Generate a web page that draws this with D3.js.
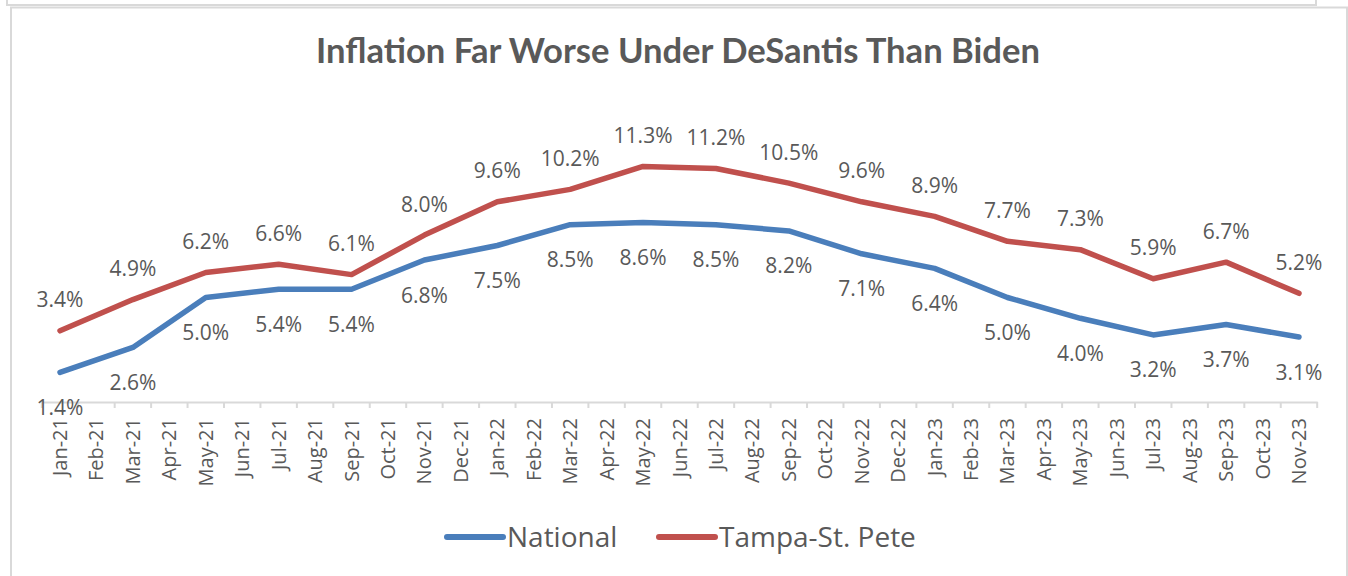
<!DOCTYPE html>
<html>
<head>
<meta charset="utf-8">
<script src="https://cdn.jsdelivr.net/npm/d3@7"></script>
<style>
  html, body { margin: 0; padding: 0; background: #ffffff; }
  svg { display: block; }
  text { font-family: "Open Sans", "DejaVu Sans", sans-serif; fill: #595959; }
</style>
</head>
<body>
<svg id="chart" width="1348" height="576"></svg>
<script>
// ---------- data ----------
const title = "Inflation Far Worse Under DeSantis Than Biden";
const months = [
  "Jan-21","Feb-21","Mar-21","Apr-21","May-21","Jun-21","Jul-21","Aug-21","Sep-21","Oct-21","Nov-21","Dec-21",
  "Jan-22","Feb-22","Mar-22","Apr-22","May-22","Jun-22","Jul-22","Aug-22","Sep-22","Oct-22","Nov-22","Dec-22",
  "Jan-23","Feb-23","Mar-23","Apr-23","May-23","Jun-23","Jul-23","Aug-23","Sep-23","Oct-23","Nov-23"
];
const pointMonths = [
  "Jan-21","Mar-21","May-21","Jul-21","Sep-21","Nov-21",
  "Jan-22","Mar-22","May-22","Jul-22","Sep-22","Nov-22",
  "Jan-23","Mar-23","May-23","Jul-23","Sep-23","Nov-23"
];
const national = [1.4, 2.6, 5.0, 5.4, 5.4, 6.8, 7.5, 8.5, 8.6, 8.5, 8.2, 7.1, 6.4, 5.0, 4.0, 3.2, 3.7, 3.1];
const tampa    = [3.4, 4.9, 6.2, 6.6, 6.1, 8.0, 9.6, 10.2, 11.3, 11.2, 10.5, 9.6, 8.9, 7.7, 7.3, 5.9, 6.7, 5.2];
const seriesNames = ["National", "Tampa-St. Pete"];
const seriesColors = ["#4a7ebb", "#c0504d"];

// ---------- layout ----------
const svg = d3.select("#chart");
const grey = "#d9d9d9";

// frames
svg.append("rect").attr("x", 7).attr("y", -10).attr("width", 1309).attr("height", 15)
  .attr("fill", "none").attr("stroke", grey).attr("stroke-width", 2);
svg.append("rect").attr("x", 11).attr("y", 7.5).attr("width", 1336).attr("height", 600)
  .attr("fill", "#fff").attr("stroke", grey).attr("stroke-width", 2);

const x = d3.scaleBand().domain(months).range([41.8, 1317.2]).padding(0);
const y = d3.scaleLinear().domain([0, 12]).range([401.5, 151.9]);
const cx = m => x(m) + x.bandwidth() / 2;

// title
const t = svg.append("text").attr("x", 678).attr("y", 63).attr("text-anchor", "middle")
  .style("font-family", "Lato, 'Open Sans', sans-serif")
  .style("font-weight", "bold").style("font-size", "32px").text(title);
const tw = t.node().getComputedTextLength();
t.style("font-size", (32 * 724 / tw) + "px");

// x axis
const axisG = svg.append("g").attr("transform", "translate(0,402)");
axisG.call(d3.axisBottom(x).tickSize(0).tickFormat(""));
axisG.select(".domain").attr("stroke", grey).attr("stroke-width", 2);
// tick marks between categories
const bounds = months.map(m => x(m)).concat([x(months[months.length - 1]) + x.bandwidth()]);
axisG.selectAll("line.tk").data(bounds).enter().append("line").attr("class", "tk")
  .attr("x1", d => d).attr("x2", d => d).attr("y1", 0).attr("y2", 6)
  .attr("stroke", grey).attr("stroke-width", 2);
axisG.selectAll("text.lbl").data(months).enter().append("text").attr("class", "lbl")
  .attr("transform", d => `translate(${cx(d)},16) rotate(-90)`)
  .attr("text-anchor", "end").attr("dy", "0.35em")
  .style("font-size", "20px").text(d => d);

// lines
const line = d3.line().x(d => cx(d.m)).y(d => y(d.v));
const series = [national, tampa].map((vals, i) => ({
  name: seriesNames[i], color: seriesColors[i],
  pts: vals.map((v, j) => ({ m: pointMonths[j], v }))
}));
series.forEach(s => {
  svg.append("path").datum(s.pts).attr("d", line)
    .attr("fill", "none").attr("stroke", s.color).attr("stroke-width", 5.5)
    .attr("stroke-linejoin", "round").attr("stroke-linecap", "round");
});

// data labels
svg.selectAll("text.nat").data(series[0].pts).enter().append("text")
  .attr("x", d => cx(d.m)).attr("y", d => y(d.v) + 42.5).attr("text-anchor", "middle")
  .style("font-size", "21px").text(d => d.v.toFixed(1) + "%");
svg.selectAll("text.tam").data(series[1].pts).enter().append("text")
  .attr("x", d => cx(d.m)).attr("y", d => y(d.v) - 23.5).attr("text-anchor", "middle")
  .style("font-size", "21px").text(d => d.v.toFixed(1) + "%");

// legend
const legendX = [447, 659];
series.forEach((s, i) => {
  svg.append("line").attr("x1", legendX[i]).attr("x2", legendX[i] + 56)
    .attr("y1", 537).attr("y2", 537).attr("stroke", s.color).attr("stroke-width", 6)
    .attr("stroke-linecap", "round");
  svg.append("text").attr("x", legendX[i] + 60).attr("y", 547)
    .style("font-size", "28px").text(s.name);
});
</script>
</body>
</html>
